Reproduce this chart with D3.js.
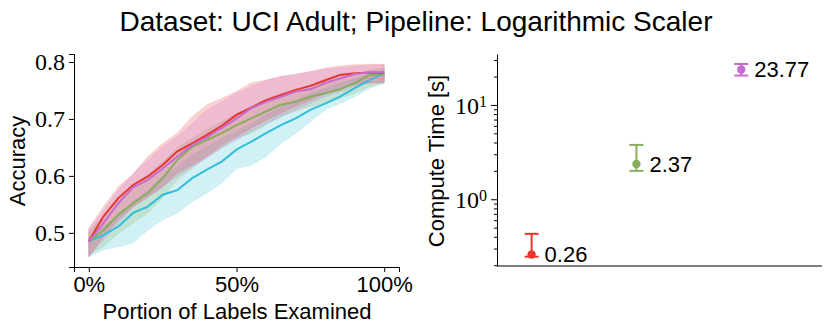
<!DOCTYPE html>
<html>
<head>
<meta charset="utf-8">
<title>UCI Adult - Logarithmic Scaler</title>
<script src="https://cdn.jsdelivr.net/npm/d3@7"></script>
<style>
body { margin: 0; background: #fff; }
.sans { font-family: "Liberation Sans", Arial, sans-serif; fill: #000; }
.serif { font-family: "Liberation Serif", "Times New Roman", serif; fill: #000; }
.domain, .tick line { stroke: #000; }
</style>
</head>
<body>
<div id="chart"></div>
<script>
// portion of labels examined (0..1)
var portion = [0, .05, .1, .15, .2, .25, .3, .35, .4, .45, .5, .55, .6, .65, .7, .75, .8, .85, .9, .95, 1];

var redMean = [.485, .529, .561, .584, .599, .619, .643, .657, .672, .688, .707, .720, .733, .742, .751, .758, .768, .777, .780, .781, .781];
var redLo   = [.458, .494, .523, .546, .564, .581, .605, .619, .634, .654, .669, .684, .698, .710, .722, .733, .745, .754, .760, .763, .764];
var redHi   = [.508, .546, .581, .602, .634, .657, .675, .704, .725, .736, .748, .763, .768, .774, .777, .783, .789, .793, .795, .796, .796];

var purpleMean = [.485, .517, .552, .580, .593, .613, .634, .654, .668, .684, .701, .719, .730, .739, .748, .752, .763, .771, .779, .782, .782];
var purpleLo   = [.458, .488, .517, .546, .561, .581, .599, .616, .631, .649, .663, .678, .692, .704, .716, .727, .739, .748, .757, .763, .765];
var purpleHi   = [.505, .540, .575, .605, .628, .651, .669, .692, .716, .730, .745, .757, .768, .775, .779, .783, .787, .790, .792, .794, .795];

var greenMean = [.485, .505, .532, .552, .570, .596, .628, .651, .663, .675, .689, .701, .713, .725, .730, .739, .745, .752, .763, .777, .779];
var greenLo   = [.461, .476, .499, .517, .535, .561, .593, .613, .634, .649, .666, .675, .689, .704, .713, .722, .727, .736, .745, .757, .763];
var greenHi   = [.502, .529, .558, .581, .602, .625, .649, .666, .681, .695, .710, .722, .733, .742, .751, .760, .766, .771, .777, .786, .789];

var cyanMean = [.485, .496, .511, .535, .546, .567, .575, .596, .611, .625, .646, .660, .675, .689, .701, .716, .727, .739, .754, .768, .780];
var cyanLo   = [.458, .470, .476, .482, .505, .523, .535, .555, .570, .587, .613, .619, .634, .657, .675, .695, .716, .727, .739, .754, .763];
var cyanHi   = [.494, .511, .529, .555, .575, .599, .616, .637, .651, .666, .678, .692, .707, .722, .733, .745, .754, .763, .771, .779, .786];

// compute time (right panel)
var timeNames = ["red", "green", "purple"];
var timeMean = [0.26, 2.37, 23.77];
var timeLo   = [0.246, 2.0, 20.5];
var timeHi   = [0.43, 3.77, 27.2];
var timeLabels = ["0.26", "2.37", "23.77"];

var colors = { red: "#e8362c", purple: "#c96ad0", green: "#88ad5c", cyan: "#32bfd8" };

var width = 830, height = 333;

var svg = d3.select("#chart").append("svg")
    .attr("width", width)
    .attr("height", height);

svg.append("text")
    .attr("class", "sans")
    .attr("x", 416).attr("y", 31)
    .attr("text-anchor", "middle")
    .style("font-size", "28px")
    .text("Dataset: UCI Adult; Pipeline: Logarithmic Scaler");

// ---------- left panel ----------
var x = d3.scaleLinear().domain([-0.05, 1.05]).range([74, 399]);
var y = d3.scaleLinear().domain([0.44, 0.814]).range([267, 54]);

var series = [
  { name: "cyan",   mean: cyanMean,   lo: cyanLo,   hi: cyanHi },
  { name: "green",  mean: greenMean,  lo: greenLo,  hi: greenHi },
  { name: "red",    mean: redMean,    lo: redLo,    hi: redHi },
  { name: "purple", mean: purpleMean, lo: purpleLo, hi: purpleHi }
];

var area = d3.area()
    .x(function(d) { return x(d.p); })
    .y0(function(d) { return y(d.lo); })
    .y1(function(d) { return y(d.hi); });

var line = d3.line()
    .x(function(d) { return x(d.p); })
    .y(function(d) { return y(d.m); });

function rows(s) {
  return portion.map(function(p, i) { return { p: p, m: s.mean[i], lo: s.lo[i], hi: s.hi[i] }; });
}

series.forEach(function(s) {
  svg.append("path")
    .attr("d", area(rows(s)))
    .attr("fill", colors[s.name])
    .attr("fill-opacity", 0.22)
    .attr("stroke", colors[s.name])
    .attr("stroke-opacity", 0.15);
});
series.forEach(function(s) {
  svg.append("path")
    .attr("d", line(rows(s)))
    .attr("fill", "none")
    .attr("stroke", colors[s.name])
    .attr("stroke-width", 2);
});

var xAxis = svg.append("g")
    .attr("transform", "translate(0,267)")
    .call(d3.axisBottom(x).tickValues([0, 0.5, 1]).tickSizeOuter(0).tickSize(5).tickPadding(4)
      .tickFormat(function(d) { return Math.round(d * 100) + "%"; }));
xAxis.selectAll("text").attr("class", "sans").style("font-size", "22px");

var yAxis = svg.append("g")
    .attr("transform", "translate(74,0)")
    .call(d3.axisLeft(y).tickValues([0.5, 0.6, 0.7, 0.8]).tickSizeOuter(0).tickSize(5).tickPadding(4)
      .tickFormat(d3.format(".1f")));
yAxis.selectAll("text").attr("class", "serif").style("font-size", "24px");

svg.append("text")
    .attr("class", "sans")
    .attr("x", 237).attr("y", 319)
    .attr("text-anchor", "middle")
    .style("font-size", "22px")
    .text("Portion of Labels Examined");

svg.append("text")
    .attr("class", "sans")
    .attr("transform", "translate(25,161) rotate(-90)")
    .attr("text-anchor", "middle")
    .style("font-size", "22px")
    .text("Accuracy");

// ---------- right panel ----------
var x2 = d3.scaleLinear().domain([-0.33, 2.77]).range([497, 822]);
var y2 = d3.scaleLog().domain([0.196, 34.7]).range([266, 54]);

var minor = [];
[0.1, 1, 10].forEach(function(dec) {
  for (var k = 2; k <= 9; k++) {
    var v = dec * k;
    if (v >= 0.196 && v <= 34.7) minor.push(v);
  }
});

svg.append("g")
    .attr("transform", "translate(497,0)")
    .call(d3.axisLeft(y2).tickValues(minor).tickSize(3).tickFormat("").tickSizeOuter(0))
    .select(".domain").remove();

var yAxis2 = svg.append("g")
    .attr("transform", "translate(497,0)")
    .call(d3.axisLeft(y2).tickValues([1, 10]).tickSize(6).tickSizeOuter(0).tickPadding(4).tickFormat(""));

yAxis2.selectAll(".tick").each(function(d) {
  var t = d3.select(this).append("text")
      .attr("class", "serif")
      .attr("x", -10).attr("dy", "0.35em")
      .attr("text-anchor", "end")
      .style("font-size", "24px");
  t.append("tspan").text("10");
  t.append("tspan").attr("dy", "-0.45em").style("font-size", "16px").text(Math.round(Math.log10(d)));
});

svg.append("line")
    .attr("x1", 497).attr("x2", 822)
    .attr("y1", 266).attr("y2", 266)
    .attr("stroke", "#000");

svg.append("text")
    .attr("class", "sans")
    .attr("transform", "translate(444,161) rotate(-90)")
    .attr("text-anchor", "middle")
    .style("font-size", "22px")
    .text("Compute Time [s]");

var pts = svg.selectAll(".pt")
    .data(timeNames)
    .enter().append("g")
    .attr("class", "pt");

pts.append("line")
    .attr("x1", function(d, i) { return x2(i); })
    .attr("x2", function(d, i) { return x2(i); })
    .attr("y1", function(d, i) { return y2(timeLo[i]); })
    .attr("y2", function(d, i) { return y2(timeHi[i]); })
    .attr("stroke", function(d) { return colors[d]; })
    .attr("stroke-width", 2);

[timeLo, timeHi].forEach(function(arr) {
  pts.append("line")
    .attr("x1", function(d, i) { return x2(i) - 7; })
    .attr("x2", function(d, i) { return x2(i) + 7; })
    .attr("y1", function(d, i) { return y2(arr[i]); })
    .attr("y2", function(d, i) { return y2(arr[i]); })
    .attr("stroke", function(d) { return colors[d]; })
    .attr("stroke-width", 2);
});

pts.append("circle")
    .attr("cx", function(d, i) { return x2(i); })
    .attr("cy", function(d, i) { return y2(timeMean[i]); })
    .attr("r", 4.2)
    .attr("fill", function(d) { return colors[d]; });

pts.append("text")
    .attr("class", "sans")
    .attr("x", function(d, i) { return x2(i) + 13; })
    .attr("y", function(d, i) { return y2(timeMean[i]); })
    .attr("dy", "0.36em")
    .style("font-size", "22px")
    .text(function(d, i) { return timeLabels[i]; });
</script>
</body>
</html>
